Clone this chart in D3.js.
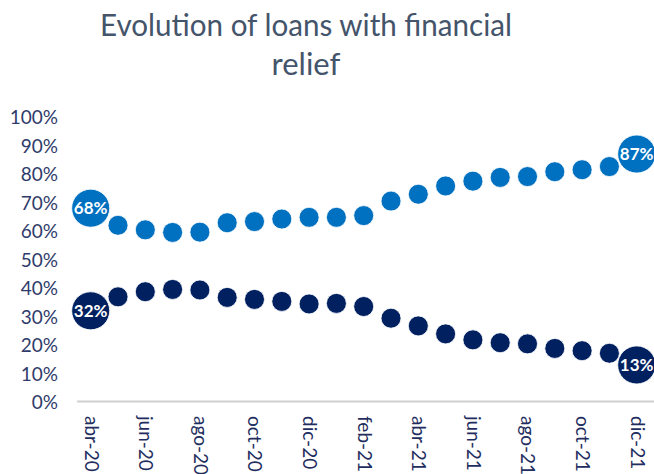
<!DOCTYPE html>
<html>
<head>
<meta charset="utf-8">
<script src="https://cdn.jsdelivr.net/npm/d3@7"></script>
<style>
  html, body { margin: 0; padding: 0; background: #ffffff; }
  svg { display: block; }
</style>
</head>
<body>
<svg id="chart" width="654" height="474"></svg>
<script>
// Monthly share of loans with financial relief, by status
const months = ["abr-20","may-20","jun-20","jul-20","ago-20","sep-20","oct-20","nov-20","dic-20",
                "ene-21","feb-21","mar-21","abr-21","may-21","jun-21","jul-21","ago-21","sep-21",
                "oct-21","nov-21","dic-21"];
const upperSeries = [68, 62.0, 60.4, 59.5, 59.6, 62.9, 63.3, 64.2, 64.8,
                     64.8, 65.4, 70.5, 72.9, 75.8, 77.5, 78.8, 79.1, 80.8, 81.5, 82.6, 87];
const lowerSeries = [32, 36.9, 38.7, 39.5, 39.3, 36.7, 36.0, 35.3, 34.4,
                     34.6, 33.5, 29.4, 26.7, 23.9, 21.8, 20.8, 20.4, 18.8, 18.0, 17.1, 13];
const yTicks = [0, 10, 20, 30, 40, 50, 60, 70, 80, 90, 100];
const xTickLabels = ["abr-20","jun-20","ago-20","oct-20","dic-20","feb-21",
                     "abr-21","jun-21","ago-21","oct-21","dic-21"];
const titleLines = ["Evolution of loans with financial", "relief"];

const svg = d3.select("#chart");
const W = 654, H = 474;
const FONT = "Lato, 'Open Sans', sans-serif";

const x = d3.scalePoint().domain(months).range([90.7, 636.7]);
const y = d3.scaleLinear().domain([0, 100]).range([402, 117]);

// Title
svg.append("g").selectAll("text")
  .data(titleLines)
  .join("text")
  .attr("x", 306)
  .attr("y", (d, i) => 36 + i * 39)
  .attr("text-anchor", "middle")
  .attr("font-family", FONT)
  .attr("font-size", 31)
  .attr("fill", "#44546A")
  .attr("textLength", (d, i) => i === 0 ? 412 : null)
  .attr("lengthAdjust", "spacingAndGlyphs")
  .text(d => d);

// Y axis labels (no axis line)
const yAxis = d3.axisLeft(y).tickValues(yTicks).tickFormat(d => d + "%").tickSize(0).tickPadding(0);
const gy = svg.append("g").attr("transform", "translate(58,0)").call(yAxis);
gy.select(".domain").remove();
gy.selectAll("text")
  .attr("font-family", FONT)
  .attr("font-size", 19)
  .attr("fill", "#2F3C6B")
  .attr("dy", "0.35em");

// X axis baseline
svg.append("line")
  .attr("x1", 77).attr("x2", W)
  .attr("y1", y(0) - 0.5).attr("y2", y(0) - 0.5)
  .attr("stroke", "#D0D0D0")
  .attr("stroke-width", 2);

// X axis labels, rotated to read top-down
const xAxis = d3.axisBottom(x).tickValues(xTickLabels).tickSize(0).tickPadding(0);
const gx = svg.append("g").attr("transform", "translate(0,416)").call(xAxis);
gx.select(".domain").remove();
gx.selectAll("text")
  .attr("font-family", FONT)
  .attr("font-size", 19)
  .attr("fill", "#1F2E60")
  .attr("text-anchor", "start")
  .attr("y", 0)
  .attr("dy", "0.35em")
  .attr("transform", "rotate(90)");

// Dot series
const series = [
  { values: upperSeries, color: "#0070C0" },
  { values: lowerSeries, color: "#002060" }
];
const last = months.length - 1;

series.forEach(s => {
  const g = svg.append("g");
  g.selectAll("circle")
    .data(s.values)
    .join("circle")
    .attr("cx", (d, i) => x(months[i]))
    .attr("cy", d => y(d))
    .attr("r", (d, i) => (i === 0 || i === last) ? 19 : 10)
    .attr("fill", s.color)
    .attr("stroke", "#ffffff")
    .attr("stroke-width", 0.8);

  g.selectAll("text")
    .data([0, last])
    .join("text")
    .attr("x", i => x(months[i]))
    .attr("y", i => y(s.values[i]))
    .attr("dy", "0.36em")
    .attr("text-anchor", "middle")
    .attr("font-family", FONT)
    .attr("font-weight", "bold")
    .attr("font-size", 17)
    .attr("fill", "#ffffff")
    .text(i => Math.round(s.values[i]) + "%");
});
</script>
</body>
</html>
